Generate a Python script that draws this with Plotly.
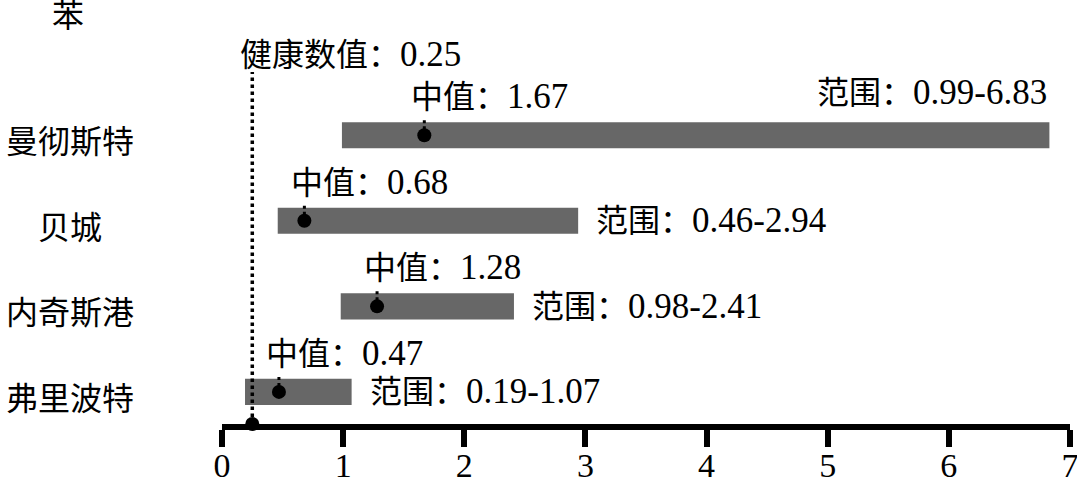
import plotly.graph_objects as go

# ---- data ----
title = "苯"
cities = ["弗里波特", "内奇斯港", "贝城", "曼彻斯特"]
range_low = [0.19, 0.98, 0.46, 0.99]
range_high = [1.07, 2.41, 2.94, 6.83]
medians = [0.47, 1.28, 0.68, 1.67]
health_value = 0.25
x_ticks = [0, 1, 2, 3, 4, 5, 6, 7]

FONT = "Liberation Serif, Times New Roman, Noto Sans CJK SC"
FS = 32
NUM_FS = 35
BAR_COLOR = "#676767"


def num(s):
    return f'<span style="font-size:{NUM_FS}px">{s}</span>'


rows = list(range(len(cities)))
Y0, Y1 = -0.375, 4.58

fig = go.Figure()

# range bars
fig.add_trace(go.Bar(
    orientation="h",
    y=rows,
    base=range_low,
    x=[h - l for l, h in zip(range_low, range_high)],
    width=0.305,
    marker=dict(color=BAR_COLOR, line=dict(width=0)),
    hoverinfo="skip",
))

# health dotted line
fig.add_trace(go.Scatter(
    x=[health_value, health_value], y=[Y0, 3.74],
    mode="lines", line=dict(color="black", width=3.5, dash="dot"),
    hoverinfo="skip", cliponaxis=False,
))

# median stubs and dots
for r, m in zip(rows, medians):
    fig.add_trace(go.Scatter(
        x=[m, m], y=[r, r + 0.21], mode="lines",
        line=dict(color="black", width=3, dash="dot"), hoverinfo="skip",
    ))
fig.add_trace(go.Scatter(
    x=medians, y=rows, mode="markers",
    marker=dict(color="black", size=14), hoverinfo="skip",
))

annotations = []
# category labels
for r, c in zip(rows, cities):
    annotations.append(dict(
        text=c, xref="paper", yref="y", x=(70 - 222) / 848, y=r,
        xanchor="center", yanchor="middle", yshift=-7, showarrow=False,
        font=dict(size=FS, family=FONT, color="black"),
    ))
# median labels
for r, m in zip(rows, medians):
    annotations.append(dict(
        text="中值：" + num(f"{m:.2f}"), xref="x", yref="y", x=m, y=r + 0.45,
        xanchor="left", yanchor="middle", xshift=-15, showarrow=False,
        font=dict(size=FS, family=FONT, color="black"),
    ))
# range labels
for r, lo, hi in zip(rows, range_low, range_high):
    txt = "范围：" + num(f"{lo:.2f}-{hi:.2f}")
    if hi > 5:
        annotations.append(dict(
            text=txt, xref="x", yref="y", x=hi, y=r + 0.5,
            xanchor="right", yanchor="middle", showarrow=False,
            font=dict(size=FS, family=FONT, color="black"),
        ))
    else:
        annotations.append(dict(
            text=txt, xref="x", yref="y", x=hi, y=r,
            xanchor="left", yanchor="middle", xshift=16, showarrow=False,
            font=dict(size=FS, family=FONT, color="black"),
        ))
# health label
annotations.append(dict(
    text="健康数值：" + num(f"{health_value:.2f}"), xref="x", yref="y",
    x=health_value, y=3.94,
    xanchor="left", yanchor="middle", xshift=-14, showarrow=False,
    font=dict(size=FS, family=FONT, color="black"),
))

fig.update_layout(
    width=1077, height=479,
    margin=dict(l=222, r=7, t=0, b=55),
    paper_bgcolor="white", plot_bgcolor="white",
    showlegend=False,
    title=dict(text=title, x=68 / 1077, xanchor="center", xref="container",
               y=1 - 16 / 479, yanchor="middle",
               font=dict(size=FS, family=FONT, color="black")),
    annotations=annotations,
    font=dict(family=FONT, size=FS, color="black"),
)
fig.update_xaxes(
    range=[0, 7], tickvals=x_ticks, ticktext=[str(t) for t in x_ticks],
    showline=True, linecolor="black", linewidth=6,
    ticks="outside", ticklen=17, tickwidth=6, tickcolor="black",
    showgrid=False, zeroline=False, automargin=False,
    ticklabelstandoff=-11, ticklabeloverflow="allow",
    tickfont=dict(size=34, family=FONT, color="black"),
)
fig.update_yaxes(
    range=[Y0, Y1], showticklabels=False, showgrid=False, zeroline=False,
    showline=False, ticks="", automargin=False,
)

# health marker on the axis (drawn last, above the axis line)
fig.add_trace(go.Scatter(
    x=[health_value], y=[Y0], mode="markers",
    marker=dict(color="black", size=14), cliponaxis=False, hoverinfo="skip",
))

fig.write_html("out.html", config={"displayModeBar": False},
               post_script="document.body.style.margin='0';")
